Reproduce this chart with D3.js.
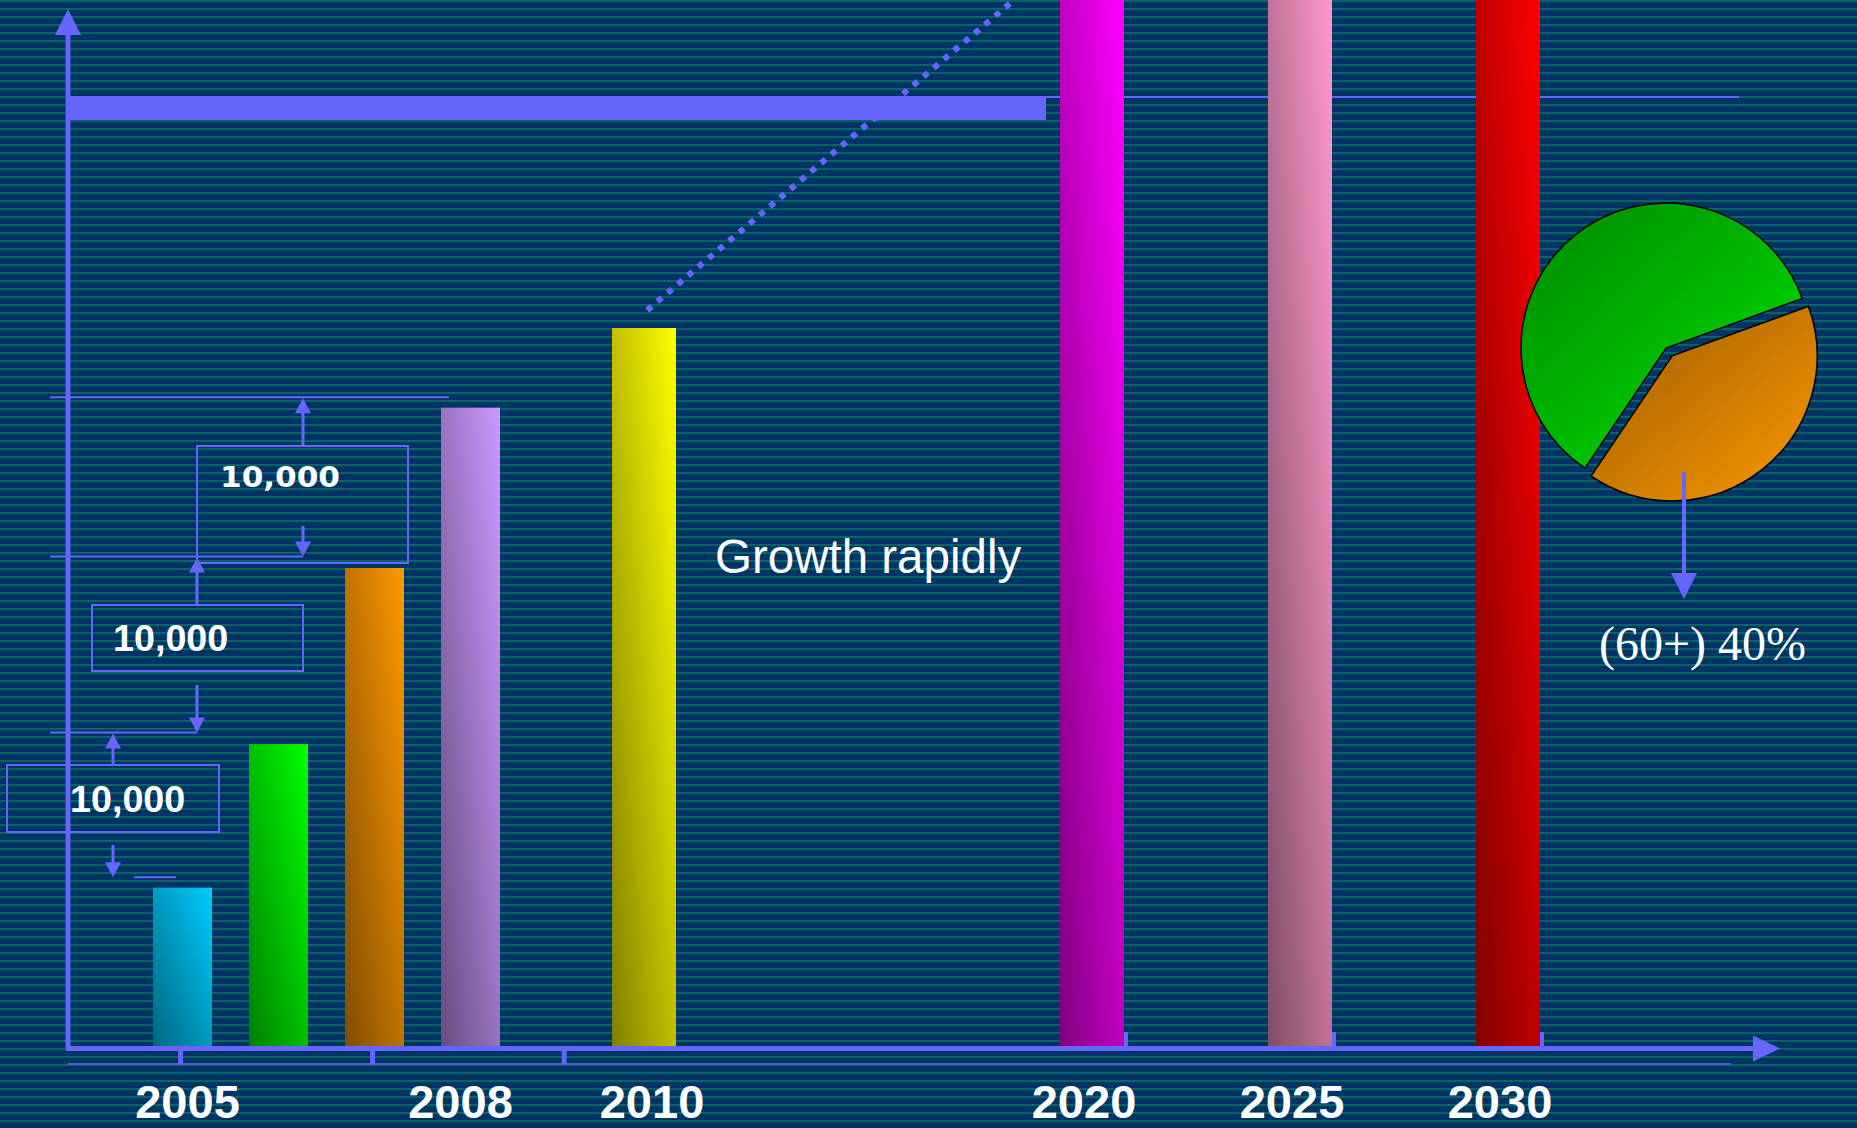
<!DOCTYPE html>
<html>
<head>
<meta charset="utf-8">
<script src="https://cdn.jsdelivr.net/npm/d3@7"></script>
<style>
  html, body { margin: 0; padding: 0; background: #003366; overflow: hidden; }
  svg { display: block; }
</style>
</head>
<body>
<script>
// ---------------- DATA ----------------
const categories = ["2005", "2006", "2007", "2008", "2010", "2020", "2025", "2030"];
const years = [2005, 2006, 2007, 2008, 2010, 2020, 2025, 2030];
const values = [15.3, 29.0, 45.8, 61.1, 68.7, 100, 100, 100];
const barColors = ["#00ccff", "#00ff00", "#ff9900", "#cc99ff", "#ffff00", "#ff00ff", "#ff99cc", "#ff0000"];
const tickLabels = ["2005", "2008", "2010", "2020", "2025", "2030"];
const tickYears = [2005, 2008, 2010, 2020, 2025, 2030];
const lowerTickYears = [2004.98, 2006.98, 2009.08];
const upperTickYears = [2020, 2025, 2030];
const guideLevels = [16.3, 30.1, 46.9, 62.1];
const stepLabels = ["10,000", "10,000", "10,000"];
const targetBand = [88.55, 90.84];
const trendPoints = [[2010.07, 70.4], [2018.26, 100]];
const annotationText = "Growth rapidly";
const pieLabels = ["under 60", "60+"];
const pieValues = [60, 40];
const pieColors = [["#008800", "#00e600"], ["#9a5c00", "#fc9800"]];
const pieCaption = "(60+) 40%";

// ---------------- SETUP ----------------
const W = 1857, H = 1128;
const axisColor = "#6666ff";
const svg = d3.select("body").append("svg").attr("width", W).attr("height", H);
const defs = svg.append("defs");

const pat = defs.append("pattern").attr("id", "stripes")
  .attr("width", 8).attr("height", 8).attr("patternUnits", "userSpaceOnUse");
pat.append("rect").attr("width", 8).attr("height", 8).attr("fill", "#003366");
pat.append("rect").attr("y", 0).attr("width", 8).attr("height", 2).attr("fill", "#0b6464");
svg.append("rect").attr("width", W).attr("height", H).attr("fill", "url(#stripes)");

const y = d3.scaleLinear().domain([0, 100]).range([1048, 0]);
const x = d3.scaleLinear().domain([2005, 2008, 2010, 2020, 2030]).range([182.5, 470.5, 644, 1092, 1508]);
const axisX = 68;
const barW = yr => (yr >= 2010 ? 64 : 59);

// bar gradients
years.forEach((yr, i) => {
  const c = d3.color(barColors[i]);
  const dark = d3.rgb(c.r * 0.5, c.g * 0.5, c.b * 0.5);
  const g = defs.append("linearGradient").attr("id", "bg" + i)
    .attr("x1", 0).attr("y1", 1).attr("x2", 1).attr("y2", 0);
  g.append("stop").attr("offset", 0).attr("stop-color", dark.formatHex());
  g.append("stop").attr("offset", 1).attr("stop-color", c.formatHex());
});

// ---------------- TARGET LINE + TREND ----------------
svg.append("line")
  .attr("x1", 1046).attr("x2", 1739)
  .attr("y1", y(targetBand[1]) + 1).attr("y2", y(targetBand[1]) + 1)
  .attr("stroke", axisColor).attr("stroke-width", 2);

svg.append("line")
  .attr("x1", x(trendPoints[0][0])).attr("y1", y(trendPoints[0][1]))
  .attr("x2", x(trendPoints[1][0])).attr("y2", y(trendPoints[1][1]))
  .attr("stroke", axisColor).attr("stroke-width", 6)
  .attr("stroke-dasharray", "6,7.4");

svg.append("rect")
  .attr("x", axisX).attr("y", y(targetBand[1]))
  .attr("width", 1046 - axisX).attr("height", y(targetBand[0]) - y(targetBand[1]))
  .attr("fill", axisColor);

// ---------------- GUIDE LINES & ANNOTATION BOXES ----------------
const guideExtents = [[134, 176], [50, 197], [50, 303], [50, 449]];
guideLevels.forEach((v, i) => {
  svg.append("line")
    .attr("x1", guideExtents[i][0]).attr("x2", guideExtents[i][1])
    .attr("y1", y(v)).attr("y2", y(v))
    .attr("stroke", axisColor).attr("stroke-width", 2);
});

function arrow(xp, yFrom, yTip) {
  const dir = yTip < yFrom ? -1 : 1;
  const headLen = 15, headHalf = 8;
  svg.append("line").attr("x1", xp).attr("x2", xp)
    .attr("y1", yFrom).attr("y2", yTip - dir * headLen + dir * 1)
    .attr("stroke", axisColor).attr("stroke-width", 3);
  svg.append("path")
    .attr("d", `M${xp},${yTip} L${xp - headHalf},${yTip - dir * headLen} L${xp + headHalf},${yTip - dir * headLen} Z`)
    .attr("fill", axisColor);
}

const boxes = [
  { x: 7, y: 765, w: 212, h: 67, tx: 70, ty: 812, ax: 113, bold: true },
  { x: 92, y: 605, w: 211, h: 66, tx: 113, ty: 651, ax: 197, bold: true },
  { x: 197, y: 446, w: 211, h: 117, tx: 220, ty: 487, ax: 303, bold: false }
];
const downStarts = [845, 685, 526];
boxes.forEach((b, i) => {
  svg.append("rect").attr("x", b.x).attr("y", b.y).attr("width", b.w).attr("height", b.h)
    .attr("fill", "none").attr("stroke", axisColor).attr("stroke-width", 2);
  arrow(b.ax, b.y, y(guideLevels[i + 1]) + 1);
  arrow(b.ax, downStarts[i], y(guideLevels[i]));
  const t = svg.append("text").attr("x", b.tx).attr("y", b.ty)
    .attr("fill", "#ffffff").text(stepLabels[i]);
  if (b.bold) {
    t.attr("font-family", "'Liberation Sans', Arial, sans-serif")
      .attr("font-weight", "bold").attr("font-size", 37.7);
  } else {
    t.attr("font-family", "'DejaVu Sans', Verdana, sans-serif")
      .attr("font-weight", "bold")
      .attr("font-size", 29).attr("textLength", 120).attr("lengthAdjust", "spacingAndGlyphs");
  }
});

// ---------------- BARS ----------------
svg.selectAll("rect.bar").data(years).enter().append("rect")
  .attr("class", "bar")
  .attr("x", (d) => x(d) - barW(d) / 2)
  .attr("width", (d) => barW(d))
  .attr("y", (d, i) => y(values[i]))
  .attr("height", (d, i) => y(0) - y(values[i]))
  .attr("fill", (d, i) => `url(#bg${i})`);

// ---------------- AXES ----------------
svg.append("line").attr("x1", axisX).attr("x2", axisX).attr("y1", y(0) + 0.5).attr("y2", 34)
  .attr("stroke", axisColor).attr("stroke-width", 5);
svg.append("path").attr("d", `M${axisX},9 L${axisX - 13},35 L${axisX + 13},35 Z`).attr("fill", axisColor);
svg.append("line").attr("x1", axisX - 2).attr("x2", 1754).attr("y1", y(0) + 0.5).attr("y2", y(0) + 0.5)
  .attr("stroke", axisColor).attr("stroke-width", 5);
svg.append("path").attr("d", `M1780,${y(0) + 0.5} L1753,${y(0) - 12.5} L1753,${y(0) + 13.5} Z`).attr("fill", axisColor);
svg.append("line").attr("x1", axisX).attr("x2", 1731).attr("y1", 1064).attr("y2", 1064)
  .attr("stroke", "#4a5ed6").attr("stroke-width", 2);
svg.selectAll("line.lt").data(lowerTickYears).enter().append("line").attr("class", "lt")
  .attr("x1", d => x(d)).attr("x2", d => x(d)).attr("y1", y(0) + 2).attr("y2", 1064)
  .attr("stroke", axisColor).attr("stroke-width", 5);
svg.selectAll("line.ut").data(upperTickYears).enter().append("line").attr("class", "ut")
  .attr("x1", d => x(d) + barW(d) / 2 + 2).attr("x2", d => x(d) + barW(d) / 2 + 2)
  .attr("y1", 1032).attr("y2", y(0))
  .attr("stroke", axisColor).attr("stroke-width", 4);

// year labels (small per-label nudges to match the original layout)
const labelNudge = [5, -10, 8, -8, -8, -8];
svg.selectAll("text.yl").data(tickLabels).enter().append("text").attr("class", "yl")
  .attr("x", (d, i) => x(tickYears[i]) + labelNudge[i])
  .attr("y", 1118)
  .attr("text-anchor", "middle")
  .attr("font-family", "'Liberation Sans', Arial, sans-serif")
  .attr("font-weight", "bold").attr("font-size", 47)
  .attr("fill", "#ffffff").text(d => d);

svg.append("text").attr("x", 715).attr("y", 573)
  .attr("font-family", "'Liberation Sans', Arial, sans-serif")
  .attr("font-size", 47.5).attr("fill", "#ffffff").text(annotationText);

// ---------------- PIE ----------------
const cx = 1666, cy = 348, R = 145;
pieColors.forEach((c, i) => {
  const g = defs.append("linearGradient").attr("id", "pg" + i)
    .attr("x1", 0).attr("y1", 0).attr("x2", 1).attr("y2", 1);
  g.append("stop").attr("offset", 0).attr("stop-color", c[0]);
  g.append("stop").attr("offset", 1).attr("stop-color", c[1]);
});
const startA = -146 * Math.PI / 180;
const pie = d3.pie().sort(null).startAngle(startA).endAngle(startA + 2 * Math.PI);
const arcs = pie(pieValues);
const arcGen = d3.arc().innerRadius(0).outerRadius(R);
const pieG = svg.append("g").attr("transform", `translate(${cx},${cy})`);
pieG.selectAll("path").data(arcs).enter().append("path")
  .attr("d", arcGen)
  .attr("transform", (d, i) => {
    if (i === 0) return null;
    const mid = (d.startAngle + d.endAngle) / 2;
    const off = 10;
    return `translate(${Math.sin(mid) * off},${-Math.cos(mid) * off})`;
  })
  .attr("fill", (d, i) => `url(#pg${i})`)
  .attr("stroke", "#000").attr("stroke-width", 1.5)
  .append("title").text((d, i) => pieLabels[i]);

svg.append("line").attr("x1", 1684).attr("x2", 1684).attr("y1", 472).attr("y2", 575)
  .attr("stroke", axisColor).attr("stroke-width", 4);
svg.append("path").attr("d", "M1684,599 L1671,573 L1697,573 Z").attr("fill", axisColor);
svg.append("text").attr("x", 1599).attr("y", 660)
  .attr("font-family", "'Liberation Serif', 'Times New Roman', serif")
  .attr("font-size", 48).attr("fill", "#ffffff").text(pieCaption);
</script>
</body>
</html>
